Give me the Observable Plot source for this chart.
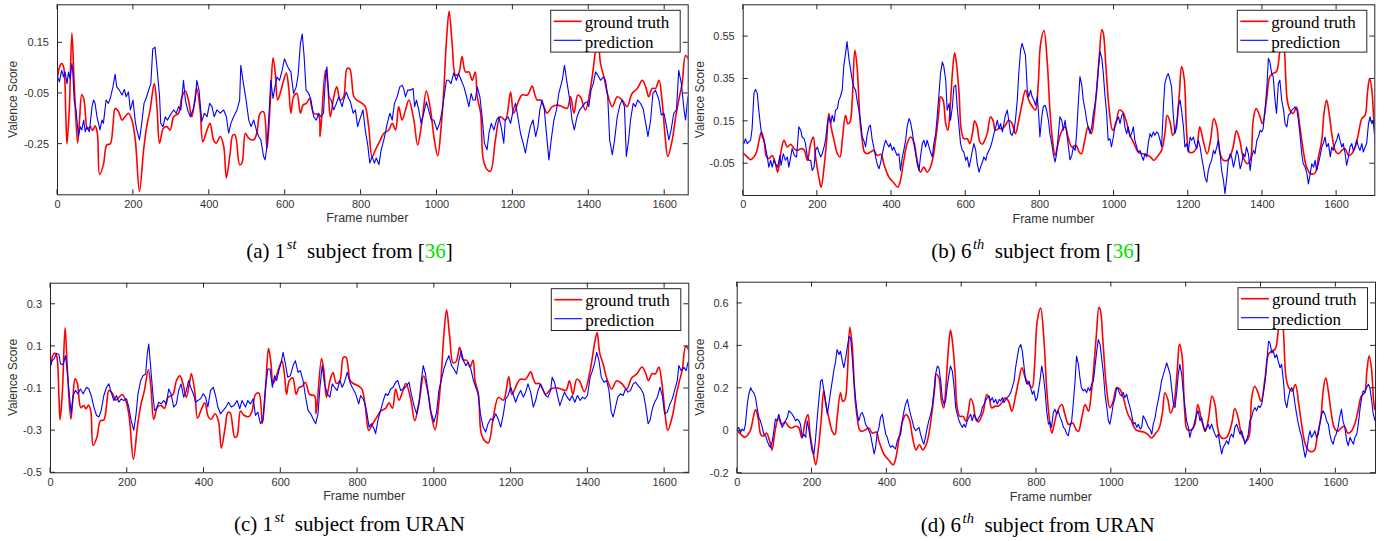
<!DOCTYPE html>
<html><head><meta charset="utf-8">
<script src="https://cdn.jsdelivr.net/npm/d3@7"></script>
<script src="https://cdn.jsdelivr.net/npm/@observablehq/plot@0.6"></script>
<style>
html,body{margin:0;padding:0;background:#fff}
#page{position:relative;width:1396px;height:541px;overflow:hidden;background:#fff}
</style></head><body>
<div id="page"></div>
<script>
// ---------- DATA ----------
const xTicks = [0,200,400,600,800,1000,1200,1400,1600];
const yTicksA = [-0.25,-0.05,0.15];
const yTicksB = [-0.05,0.15,0.35,0.55];
const yTicksC = [-0.5,-0.3,-0.1,0.1,0.3];
const yTicksD = [-0.2,0,0.2,0.4,0.6];
const seriesNames = ["ground truth","prediction"];
const xLabel = "Frame number";
const yLabel = "Valence Score";

// ground truth, 1st subject [frame, valence] (same in panels a and c)
const truthSubject1 = [[0,0.015],[7,0.061],[11,0.068],[16,0.055],[22,-0.142],[25,-0.249],[31,-0.115],[38,0.188],[44,-0.011],[53,-0.246],[58,-0.155],[64,-0.054],[70,-0.076],[79,-0.191],[86,-0.181],[93,-0.196],[99,-0.178],[105,-0.207],[111,-0.37],[121,-0.331],[130,-0.253],[139,-0.249],[146,-0.181],[152,-0.109],[161,-0.122],[170,-0.155],[178,-0.142],[187,-0.128],[196,-0.155],[205,-0.233],[216,-0.436],[227,-0.272],[235,-0.181],[244,-0.115],[255,-0.011],[262,-0.102],[269,-0.246],[279,-0.187],[288,-0.181],[297,-0.194],[306,-0.142],[319,-0.128],[328,-0.063],[337,-0.04],[345,-0.076],[354,-0.142],[363,-0.063],[367,-0.03],[376,-0.115],[383,-0.24],[394,-0.194],[402,-0.168],[411,-0.233],[418,-0.246],[429,-0.22],[438,-0.259],[445,-0.383],[455,-0.285],[462,-0.214],[468,-0.214],[480,-0.331],[486,-0.325],[495,-0.207],[504,-0.227],[517,-0.233],[525,-0.207],[534,-0.128],[543,-0.122],[552,-0.266],[561,-0.076],[568,0.091],[574,0.028],[580,-0.076],[589,-0.037],[596,0.002],[603,0.031],[609,-0.024],[615,-0.128],[622,-0.063],[631,-0.05],[640,-0.128],[647,-0.096],[656,-0.089],[664,-0.07],[675,-0.128],[688,-0.135],[692,-0.22],[706,0.042],[712,-0.011],[719,-0.142],[728,-0.063],[736,-0.024],[745,-0.076],[754,-0.063],[763,0.048],[770,0.048],[781,-0.063],[789,-0.076],[803,-0.089],[811,-0.102],[820,-0.181],[829,-0.299],[838,-0.272],[851,-0.233],[860,-0.207],[873,-0.194],[882,-0.168],[891,-0.194],[899,-0.102],[908,-0.155],[917,-0.115],[926,-0.076],[939,-0.155],[949,-0.253],[961,-0.155],[972,-0.04],[983,-0.115],[993,-0.233],[1002,-0.296],[1011,-0.181],[1018,-0.037],[1025,0.159],[1032,0.274],[1040,0.146],[1049,0.022],[1057,0.028],[1066,0.096],[1075,0.035],[1084,0.035],[1093,0.002],[1101,0.035],[1106,-0.063],[1115,-0.128],[1122,-0.311],[1132,-0.35],[1141,-0.357],[1154,-0.233],[1167,-0.142],[1180,-0.155],[1194,-0.044],[1202,-0.128],[1216,-0.076],[1224,-0.056],[1238,-0.056],[1251,-0.021],[1257,-0.05],[1264,-0.076],[1273,-0.076],[1282,-0.102],[1290,-0.128],[1304,-0.102],[1317,-0.096],[1330,-0.102],[1343,-0.109],[1352,-0.063],[1361,-0.128],[1371,-0.056],[1378,-0.063],[1391,-0.115],[1405,-0.024],[1418,0.12],[1424,0.166],[1431,0.068],[1440,0.015],[1449,-0.05],[1462,-0.102],[1475,-0.063],[1488,-0.076],[1501,-0.102],[1514,-0.05],[1528,-0.03],[1541,0.002],[1550,-0.024],[1558,-0.063],[1567,-0.03],[1576,-0.03],[1585,0.002],[1593,-0.076],[1602,-0.233],[1608,-0.299],[1620,-0.233],[1629,-0.142],[1637,-0.076],[1646,-0.011],[1655,0.1],[1662,0.087]];

// prediction, 1st subject, method of [36] (panel a)
const predA = [[0,0.015],[5,-0.004],[11,0.041],[16,0.015],[20,0.035],[25,-0.011],[29,0.035],[33,0.009],[38,0.068],[40,0.041],[44,-0.076],[49,-0.115],[55,-0.22],[60,-0.181],[64,-0.194],[69,-0.155],[73,-0.201],[77,-0.181],[84,-0.201],[91,-0.102],[95,-0.076],[99,-0.089],[104,-0.142],[108,-0.168],[112,-0.194],[117,-0.155],[121,-0.168],[128,-0.076],[134,-0.089],[139,-0.07],[146,-0.024],[152,0.026],[156,-0.024],[163,-0.037],[170,-0.056],[176,-0.034],[181,-0.063],[187,-0.044],[192,-0.115],[199,-0.076],[205,-0.161],[209,-0.194],[216,-0.233],[222,-0.168],[228,-0.089],[235,-0.063],[240,-0.037],[246,-0.011],[251,0.126],[257,0.133],[262,0.055],[269,-0.063],[272,-0.168],[278,-0.181],[284,-0.142],[290,-0.155],[297,-0.135],[306,-0.115],[313,-0.128],[319,-0.102],[325,-0.115],[332,0.002],[337,-0.076],[343,-0.115],[350,-0.142],[357,-0.115],[363,-0.076],[367,0.002],[373,-0.037],[376,-0.089],[380,-0.161],[387,-0.128],[394,-0.142],[401,-0.089],[407,-0.102],[413,-0.142],[420,-0.115],[429,-0.128],[438,-0.115],[445,-0.142],[451,-0.207],[457,-0.168],[464,-0.142],[473,-0.115],[480,-0.076],[483,0.061],[490,-0.011],[497,-0.076],[504,-0.155],[510,-0.181],[517,-0.155],[524,-0.194],[530,-0.22],[536,-0.233],[543,-0.299],[547,-0.312],[552,-0.259],[558,-0.115],[562,0.002],[568,-0.07],[573,-0.024],[578,0.015],[585,0.002],[592,0.041],[598,0.087],[603,0.068],[609,0.048],[615,0.035],[622,-0.05],[629,-0.024],[634,0.022],[640,0.146],[645,0.185],[650,0.094],[655,-0.037],[662,-0.05],[668,-0.076],[675,-0.142],[682,-0.155],[688,-0.128],[694,-0.142],[701,-0.128],[706,0.015],[710,0.055],[715,-0.063],[721,-0.076],[728,-0.115],[735,-0.089],[741,-0.063],[750,-0.102],[754,-0.076],[761,-0.044],[767,-0.07],[772,-0.083],[779,-0.128],[785,-0.115],[791,-0.181],[796,-0.155],[805,-0.115],[811,-0.194],[818,-0.259],[823,-0.325],[829,-0.299],[835,-0.325],[840,-0.305],[847,-0.331],[853,-0.272],[860,-0.233],[869,-0.168],[876,-0.128],[882,-0.155],[888,-0.089],[895,-0.063],[902,-0.024],[908,-0.017],[912,-0.03],[917,-0.063],[923,-0.037],[930,-0.037],[937,-0.03],[941,-0.102],[946,-0.076],[952,-0.115],[958,-0.168],[965,-0.128],[972,-0.083],[978,-0.115],[985,-0.155],[992,-0.155],[1000,-0.194],[1007,-0.168],[1014,-0.115],[1020,-0.05],[1025,0.002],[1031,0.002],[1037,-0.011],[1044,0.031],[1051,0.002],[1057,0.028],[1064,0.002],[1071,-0.024],[1078,-0.063],[1084,-0.102],[1090,-0.05],[1095,-0.076],[1101,-0.076],[1106,-0.024],[1113,-0.063],[1119,-0.142],[1125,-0.246],[1132,-0.272],[1137,-0.207],[1143,-0.168],[1150,-0.194],[1157,-0.155],[1163,-0.142],[1169,-0.181],[1176,-0.246],[1180,-0.155],[1187,-0.142],[1194,-0.168],[1201,-0.115],[1207,-0.089],[1213,-0.142],[1220,-0.207],[1227,-0.246],[1233,-0.285],[1239,-0.233],[1246,-0.181],[1253,-0.155],[1260,-0.22],[1266,-0.181],[1271,-0.115],[1277,-0.076],[1283,-0.115],[1290,-0.233],[1295,-0.312],[1301,-0.233],[1308,-0.155],[1315,-0.115],[1321,-0.05],[1330,0.002],[1336,0.061],[1343,-0.011],[1350,-0.076],[1356,-0.155],[1362,-0.194],[1369,-0.142],[1376,-0.115],[1383,-0.102],[1389,-0.089],[1396,-0.083],[1400,-0.102],[1406,-0.037],[1412,-0.011],[1418,0.035],[1424,0.022],[1431,0.002],[1438,0.015],[1444,0.002],[1450,-0.063],[1455,-0.233],[1462,-0.292],[1468,-0.233],[1475,-0.142],[1482,-0.096],[1488,-0.076],[1494,-0.102],[1499,-0.299],[1505,-0.233],[1510,-0.155],[1517,-0.089],[1523,-0.102],[1529,-0.076],[1536,-0.089],[1543,-0.109],[1550,-0.168],[1556,-0.22],[1563,-0.155],[1569,-0.05],[1576,-0.037],[1585,-0.076],[1591,-0.135],[1598,-0.128],[1605,-0.181],[1611,-0.233],[1617,-0.194],[1624,-0.128],[1631,-0.115],[1637,0.041],[1644,-0.011],[1651,-0.115],[1655,-0.155],[1661,-0.063]];

// prediction, 1st subject, URAN (panel c)
const predC = [[0,0.004],[4,0.032],[9,0.04],[16,0.067],[22,0.061],[26,0.017],[33,0.013],[39,0.056],[43,-0.007],[48,-0.109],[54,-0.22],[59,-0.133],[65,-0.109],[71,-0.125],[78,-0.102],[85,-0.125],[94,-0.094],[100,-0.102],[106,-0.133],[113,-0.188],[120,-0.228],[126,-0.235],[132,-0.204],[139,-0.133],[146,-0.094],[152,-0.078],[158,-0.117],[165,-0.157],[172,-0.133],[178,-0.165],[184,-0.149],[191,-0.157],[198,-0.149],[204,-0.188],[210,-0.251],[217,-0.298],[223,-0.22],[228,-0.125],[235,-0.062],[241,-0.039],[248,-0.031],[252,0.064],[256,0.111],[261,0.001],[266,-0.109],[271,-0.204],[276,-0.196],[282,-0.165],[288,-0.173],[295,-0.157],[302,-0.173],[308,-0.102],[314,-0.125],[321,-0.188],[328,-0.173],[334,-0.109],[340,-0.078],[347,-0.141],[354,-0.109],[360,-0.062],[365,-0.094],[372,-0.125],[378,-0.165],[384,-0.157],[391,-0.149],[398,-0.125],[404,-0.141],[410,-0.188],[417,-0.109],[424,-0.094],[430,-0.133],[436,-0.188],[443,-0.22],[450,-0.204],[457,-0.188],[464,-0.165],[471,-0.188],[478,-0.181],[486,-0.157],[493,-0.196],[499,-0.157],[508,-0.188],[514,-0.157],[521,-0.173],[528,-0.149],[534,-0.228],[540,-0.212],[547,-0.267],[553,-0.251],[560,-0.102],[566,-0.007],[572,-0.007],[578,-0.094],[584,-0.039],[589,-0.062],[595,-0.015],[601,0.024],[606,0.072],[612,0.017],[618,-0.046],[625,-0.039],[632,0.009],[638,0.032],[645,-0.023],[651,-0.015],[658,-0.062],[664,-0.133],[671,-0.204],[678,-0.22],[684,-0.243],[691,-0.267],[697,-0.22],[702,-0.094],[708,0.009],[714,-0.078],[721,-0.125],[728,-0.141],[734,-0.078],[740,-0.094],[747,-0.109],[754,-0.062],[760,-0.094],[766,-0.07],[773,-0.023],[780,-0.07],[786,-0.094],[795,-0.125],[803,-0.173],[808,-0.133],[817,-0.157],[824,-0.212],[830,-0.283],[836,-0.267],[843,-0.291],[847,-0.314],[853,-0.251],[860,-0.204],[867,-0.157],[873,-0.125],[879,-0.133],[886,-0.102],[893,-0.094],[899,-0.07],[905,-0.062],[912,-0.109],[919,-0.102],[925,-0.094],[934,-0.07],[940,-0.125],[947,-0.181],[954,-0.22],[960,-0.173],[966,-0.062],[971,0.009],[977,-0.031],[983,-0.109],[990,-0.204],[999,-0.259],[1006,-0.212],[1012,-0.109],[1018,-0.062],[1025,-0.007],[1032,0.032],[1038,0.056],[1045,0.009],[1051,-0.007],[1058,-0.031],[1064,0.032],[1070,0.079],[1076,0.032],[1082,0.009],[1088,0.024],[1095,-0.007],[1102,-0.062],[1108,-0.094],[1114,-0.125],[1120,-0.22],[1127,-0.283],[1134,-0.306],[1140,-0.267],[1147,-0.243],[1153,-0.251],[1160,-0.22],[1166,-0.243],[1173,-0.283],[1180,-0.22],[1186,-0.149],[1192,-0.133],[1199,-0.094],[1206,-0.133],[1212,-0.165],[1218,-0.133],[1225,-0.109],[1232,-0.141],[1238,-0.117],[1244,-0.078],[1251,-0.117],[1258,-0.188],[1264,-0.157],[1270,-0.109],[1277,-0.078],[1284,-0.109],[1290,-0.133],[1296,-0.141],[1303,-0.109],[1307,-0.046],[1313,-0.07],[1320,-0.125],[1327,-0.181],[1333,-0.149],[1339,-0.117],[1346,-0.141],[1353,-0.157],[1359,-0.133],[1366,-0.165],[1373,-0.133],[1380,-0.157],[1386,-0.141],[1392,-0.149],[1399,-0.133],[1406,-0.046],[1412,-0.015],[1418,0.024],[1423,0.072],[1429,0.032],[1435,-0.046],[1442,-0.07],[1449,-0.062],[1455,-0.109],[1461,-0.212],[1466,-0.235],[1472,-0.188],[1478,-0.141],[1485,-0.125],[1492,-0.133],[1498,-0.102],[1505,-0.117],[1511,-0.109],[1518,-0.078],[1524,-0.07],[1531,-0.086],[1538,-0.102],[1545,-0.125],[1551,-0.188],[1557,-0.267],[1562,-0.251],[1568,-0.196],[1574,-0.165],[1581,-0.141],[1588,-0.094],[1594,-0.133],[1600,-0.22],[1607,-0.212],[1614,-0.173],[1620,-0.149],[1626,-0.109],[1633,-0.062],[1637,0.009],[1643,-0.015],[1650,0.001],[1656,-0.015],[1661,0.024]];

// ground truth, 6th subject (same in panels b and d)
const truthSubject6 = [[2,-0.003],[11,-0.018],[20,-0.031],[29,-0.018],[36,0.005],[42,0.053],[49,0.1],[56,0.06],[63,-0.018],[69,-0.026],[78,-0.011],[87,-0.05],[93,-0.09],[101,-0.003],[110,0.06],[119,0.029],[128,0.042],[137,0.021],[146,0.013],[155,0.021],[164,0.016],[173,-0.034],[182,0.045],[189,0.076],[195,-0.018],[204,-0.113],[210,-0.161],[218,-0.066],[225,0.06],[231,0.187],[237,0.124],[245,0.06],[254,-0.003],[261,-0.018],[267,0.06],[276,0.179],[282,0.139],[288,0.147],[294,0.25],[301,0.487],[307,0.408],[315,0.155],[321,0.06],[327,0.005],[334,-0.003],[343,0.005],[352,0.013],[361,-0.011],[372,-0.006],[379,-0.05],[393,-0.113],[406,-0.14],[417,-0.161],[423,-0.136],[433,-0.034],[442,0.045],[451,0.076],[460,0.053],[469,-0.034],[478,-0.09],[487,-0.066],[496,-0.09],[505,-0.066],[512,-0.018],[521,0.092],[528,0.203],[532,0.266],[539,0.25],[546,0.14],[552,0.108],[557,0.187],[564,0.376],[570,0.474],[575,0.424],[582,0.282],[588,0.108],[595,0.068],[604,0.068],[611,0.045],[618,0.092],[624,0.152],[631,0.124],[638,0.053],[645,0.042],[651,0.06],[658,0.092],[667,0.171],[674,0.152],[680,0.108],[690,0.116],[698,0.116],[707,0.132],[716,0.155],[725,0.14],[734,0.092],[743,0.155],[752,0.234],[761,0.297],[770,0.25],[779,0.221],[788,0.203],[795,0.313],[802,0.518],[811,0.578],[820,0.424],[827,0.203],[834,0.061],[841,-0.011],[847,0.029],[856,0.092],[868,0.124],[876,0.076],[886,0.029],[897,0.037],[906,0.005],[912,-0.003],[921,0.061],[930,0.124],[939,0.092],[946,0.171],[953,0.297],[960,0.455],[967,0.582],[971,0.566],[978,0.408],[987,0.203],[996,0.108],[1005,0.139],[1014,0.203],[1023,0.195],[1032,0.155],[1043,0.084],[1054,0.045],[1065,0.005],[1077,-0.003],[1087,-0.006],[1098,-0.018],[1107,-0.034],[1119,-0.011],[1128,0.013],[1137,0.092],[1143,0.179],[1151,0.147],[1158,0.084],[1167,0.124],[1176,0.282],[1182,0.408],[1189,0.353],[1196,0.092],[1203,0.005],[1214,0.005],[1223,0.029],[1231,0.124],[1240,0.061],[1251,-0.003],[1260,0.061],[1269,0.163],[1277,0.124],[1286,-0.003],[1295,-0.034],[1308,-0.031],[1321,0.029],[1330,0.105],[1339,0.061],[1348,-0.018],[1359,-0.05],[1368,-0.026],[1375,0.155],[1383,0.21],[1392,0.179],[1400,0.139],[1411,0.25],[1420,0.361],[1429,0.376],[1438,0.385],[1446,0.47],[1454,0.6],[1460,0.47],[1467,0.25],[1474,0.203],[1483,0.187],[1492,0.218],[1501,0.124],[1510,0.013],[1519,-0.066],[1530,-0.097],[1542,-0.094],[1551,-0.018],[1560,0.061],[1566,0.187],[1573,0.25],[1580,0.187],[1587,0.092],[1596,0.013],[1605,-0.003],[1614,0.013],[1623,0.021],[1632,-0.011],[1641,-0.003],[1650,0.029],[1659,0.092],[1668,0.163],[1677,0.179],[1683,0.282],[1689,0.353],[1695,0.297],[1701,0.14],[1704,0.1]];

// prediction, 6th subject, method of [36] (panel b)
const predB = [[2,0.045],[6,0.068],[11,0.045],[15,0.053],[20,0.061],[24,0.116],[29,0.282],[33,0.301],[38,0.282],[42,0.203],[47,0.124],[51,0.076],[56,0.061],[60,0.029],[65,-0.018],[69,-0.066],[74,-0.034],[78,-0.066],[83,-0.031],[87,-0.05],[93,-0.066],[99,-0.011],[102,-0.058],[108,-0.003],[114,-0.034],[119,-0.018],[123,-0.066],[128,-0.018],[132,0.021],[138,-0.011],[144,-0.018],[150,0.124],[155,0.108],[159,0.076],[164,0.068],[168,0.045],[173,-0.018],[177,-0.034],[182,-0.034],[186,-0.082],[191,-0.066],[195,0.013],[200,0.029],[204,0.005],[209,-0.018],[213,-0.003],[218,0.029],[222,0.061],[227,0.139],[231,0.171],[236,0.139],[240,0.179],[245,0.147],[249,0.203],[254,0.21],[258,0.25],[262,0.266],[267,0.297],[271,0.408],[276,0.471],[280,0.526],[285,0.447],[289,0.4],[294,0.345],[298,0.313],[303,0.297],[307,0.25],[312,0.203],[316,0.155],[321,0.076],[325,0.061],[330,0.029],[334,0.084],[339,0.124],[343,0.132],[348,0.061],[352,0.029],[357,-0.018],[361,-0.05],[366,-0.074],[370,-0.05],[375,-0.003],[379,0.029],[384,0.061],[388,0.045],[393,0.029],[397,0.045],[402,0.013],[406,0.029],[411,0.005],[415,-0.011],[420,-0.003],[424,-0.082],[429,-0.018],[433,0.013],[438,0.061],[442,0.124],[447,0.163],[451,0.147],[456,0.1],[460,0.045],[465,-0.003],[469,-0.05],[474,-0.082],[478,-0.018],[483,0.045],[487,0.061],[492,0.029],[496,0.061],[501,0.029],[505,0.005],[510,-0.018],[514,0.045],[519,0.092],[523,0.171],[528,0.282],[532,0.376],[537,0.431],[541,0.408],[546,0.345],[550,0.203],[555,0.234],[559,0.155],[564,0.218],[568,0.313],[573,0.321],[577,0.218],[582,0.124],[586,0.045],[591,0.013],[595,0.005],[600,-0.034],[604,-0.018],[609,-0.066],[613,-0.034],[618,0.013],[622,0.045],[627,0.013],[631,-0.05],[636,-0.09],[640,-0.066],[645,-0.042],[649,-0.018],[654,-0.034],[658,-0.003],[663,0.013],[667,0.029],[672,0.061],[676,0.092],[681,0.124],[685,0.155],[690,0.116],[694,0.139],[699,0.1],[703,0.139],[707,0.179],[712,0.203],[716,0.155],[721,0.092],[725,0.084],[730,0.108],[734,0.155],[739,0.25],[743,0.376],[748,0.487],[752,0.518],[757,0.487],[761,0.463],[766,0.297],[770,0.266],[775,0.297],[779,0.266],[784,0.25],[788,0.226],[793,0.266],[797,0.171],[800,0.076],[805,0.171],[809,0.218],[814,0.226],[818,0.203],[823,0.155],[827,0.092],[832,0.045],[836,-0.003],[841,-0.042],[845,-0.003],[850,0.092],[854,0.171],[859,0.155],[863,0.108],[868,0.155],[872,0.1],[877,0.029],[881,-0.031],[886,-0.011],[890,0.029],[895,0.013],[899,0.092],[904,0.25],[908,0.361],[913,0.321],[917,0.25],[922,0.203],[926,0.155],[931,0.116],[935,0.092],[940,0.124],[944,0.187],[949,0.234],[953,0.297],[958,0.408],[962,0.479],[967,0.447],[971,0.376],[975,0.282],[980,0.187],[984,0.061],[989,0.068],[993,0.029],[998,0.076],[1003,0.139],[1007,0.155],[1012,0.171],[1016,0.139],[1021,0.179],[1025,0.187],[1029,0.124],[1034,0.092],[1038,0.124],[1043,0.076],[1047,0.092],[1052,0.124],[1056,0.061],[1061,0.029],[1065,0.005],[1070,0.013],[1074,-0.011],[1079,-0.034],[1083,-0.003],[1088,-0.018],[1092,0.045],[1097,0.092],[1101,0.076],[1106,0.1],[1110,0.084],[1115,0.1],[1119,0.092],[1124,0.061],[1128,0.029],[1133,0.218],[1137,0.329],[1142,0.361],[1146,0.376],[1151,0.345],[1155,0.313],[1160,0.171],[1164,0.092],[1169,0.124],[1173,0.218],[1178,0.25],[1182,0.203],[1187,0.124],[1191,0.029],[1196,0.045],[1200,0.005],[1205,0.076],[1209,0.061],[1214,0.076],[1218,0.045],[1223,0.021],[1227,0.061],[1232,0.029],[1236,-0.018],[1241,-0.066],[1245,-0.113],[1250,-0.137],[1254,-0.082],[1259,-0.05],[1263,-0.034],[1268,0.013],[1272,-0.003],[1277,0.029],[1281,0.061],[1286,-0.003],[1290,-0.082],[1295,-0.129],[1299,-0.192],[1304,-0.113],[1308,-0.034],[1313,-0.003],[1317,-0.018],[1322,-0.066],[1326,-0.034],[1331,0.013],[1335,-0.011],[1340,-0.074],[1344,-0.05],[1349,-0.003],[1353,-0.018],[1357,0.029],[1362,-0.003],[1367,-0.082],[1371,-0.018],[1376,0.013],[1380,-0.003],[1385,0.061],[1389,0.076],[1394,0.108],[1398,0.1],[1402,0.116],[1407,0.203],[1412,0.313],[1416,0.447],[1420,0.431],[1425,0.376],[1429,0.361],[1434,0.25],[1438,0.187],[1443,0.329],[1447,0.345],[1452,0.25],[1457,0.203],[1461,0.139],[1466,0.124],[1470,0.179],[1475,0.187],[1479,0.203],[1484,0.21],[1488,0.218],[1493,0.203],[1497,0.155],[1501,0.092],[1506,-0.003],[1510,-0.05],[1515,-0.066],[1520,-0.097],[1524,-0.145],[1529,-0.097],[1533,-0.05],[1538,-0.066],[1542,-0.034],[1546,-0.082],[1551,-0.05],[1555,-0.018],[1560,0.029],[1564,0.045],[1569,0.076],[1573,0.029],[1578,0.045],[1583,-0.018],[1587,0.029],[1591,0.013],[1596,0.045],[1600,0.061],[1605,0.092],[1609,0.061],[1614,0.029],[1618,0.045],[1623,-0.003],[1627,-0.058],[1632,-0.018],[1636,0.029],[1641,0.045],[1645,0.013],[1650,0.029],[1654,0.061],[1659,0.029],[1663,0.013],[1668,0.045],[1672,0.005],[1677,0.029],[1681,0.045],[1686,0.139],[1690,0.171],[1695,0.139],[1699,0.155],[1704,0.045]];

// prediction, 6th subject, URAN (panel d)
const predD = [[0,0.008],[4,0.016],[9,-0.008],[13,0.008],[18,0],[22,0.031],[27,0.125],[31,0.172],[36,0.203],[40,0.188],[44,0.18],[49,0.156],[53,0.109],[58,0.063],[62,0.047],[67,0.016],[71,-0.016],[76,-0.023],[80,-0.047],[85,-0.07],[89,-0.078],[94,-0.047],[98,0],[102,0.055],[107,0.047],[111,0.078],[116,0.047],[120,0.016],[125,0.031],[129,0.047],[134,0.063],[138,0.094],[143,0.086],[147,0.078],[152,0.063],[156,0.047],[160,0.055],[165,0.047],[169,0.031],[174,-0.031],[178,-0.016],[183,-0.031],[187,0.047],[192,0],[196,-0.047],[200,-0.094],[205,-0.109],[209,-0.047],[214,0.063],[218,0.141],[223,0.234],[227,0.242],[232,0.188],[236,0.141],[241,0.078],[245,0.125],[250,0.188],[254,0.234],[258,0.281],[263,0.328],[267,0.383],[272,0.359],[276,0.375],[281,0.328],[285,0.297],[290,0.344],[294,0.391],[299,0.445],[303,0.438],[307,0.359],[312,0.234],[316,0.156],[321,0.078],[325,0.047],[330,0.078],[334,0.086],[339,0.063],[343,0.031],[348,0.016],[352,0],[356,-0.016],[361,-0.063],[366,-0.109],[370,-0.078],[374,-0.016],[379,0.016],[383,0.063],[388,0.078],[392,0.031],[397,-0.016],[401,-0.031],[406,-0.063],[410,-0.078],[415,-0.07],[419,-0.078],[423,-0.086],[428,-0.047],[432,-0.031],[437,-0.016],[441,0.047],[446,0.094],[450,0.125],[455,0.148],[459,0.109],[463,0.078],[468,0.047],[472,0.016],[477,0],[481,0.008],[486,0.016],[490,-0.016],[495,-0.047],[499,-0.063],[503,-0.031],[508,0.016],[512,0.047],[517,0.078],[521,0.109],[526,0.188],[530,0.266],[535,0.305],[539,0.297],[544,0.234],[548,0.156],[553,0.125],[557,0.141],[561,0.203],[566,0.266],[570,0.305],[575,0.281],[579,0.219],[584,0.109],[588,0.078],[593,0.047],[597,0.031],[602,0.016],[606,0.031],[610,0.016],[615,0.047],[619,0.063],[624,0.078],[628,0.047],[633,0.078],[637,0.063],[642,0.047],[646,0.063],[651,0.078],[655,0.109],[660,0.125],[664,0.141],[668,0.156],[673,0.164],[677,0.141],[682,0.156],[686,0.133],[691,0.148],[695,0.125],[700,0.148],[704,0.141],[709,0.156],[713,0.133],[718,0.148],[722,0.156],[726,0.164],[731,0.18],[735,0.203],[740,0.234],[744,0.297],[749,0.352],[753,0.391],[758,0.406],[762,0.375],[766,0.313],[771,0.234],[775,0.219],[780,0.234],[784,0.203],[789,0.172],[793,0.188],[798,0.141],[802,0.156],[809,0.234],[814,0.305],[818,0.266],[823,0.188],[827,0.094],[832,0.031],[836,0.039],[840,0.016],[845,0.086],[849,0.102],[854,0.078],[858,0.094],[863,0.063],[867,0.047],[872,0.016],[876,0.008],[881,-0.016],[885,-0.023],[889,0.016],[894,0.047],[898,0.125],[903,0.234],[907,0.352],[912,0.313],[916,0.25],[920,0.203],[925,0.188],[929,0.195],[934,0.18],[938,0.203],[943,0.188],[947,0.219],[952,0.234],[956,0.297],[961,0.375],[965,0.43],[970,0.406],[974,0.344],[979,0.266],[983,0.172],[988,0.109],[992,0.047],[996,0.031],[1001,0.078],[1005,0.125],[1010,0.156],[1014,0.203],[1018,0.195],[1023,0.172],[1027,0.164],[1032,0.18],[1036,0.156],[1041,0.172],[1045,0.141],[1050,0.109],[1054,0.078],[1059,0.031],[1063,0.039],[1068,0.016],[1072,0.031],[1077,0.008],[1081,0.016],[1085,0.07],[1090,0.055],[1094,0.039],[1099,0.016],[1103,0.008],[1108,-0.016],[1112,0.031],[1117,0.063],[1121,0.109],[1125,0.141],[1130,0.188],[1134,0.234],[1139,0.266],[1143,0.289],[1148,0.32],[1152,0.297],[1157,0.266],[1161,0.203],[1166,0.125],[1170,0.109],[1175,0.188],[1179,0.266],[1183,0.313],[1188,0.266],[1192,0.188],[1197,0.109],[1201,0.047],[1206,0.016],[1210,-0.031],[1214,0],[1219,0.016],[1223,0.047],[1228,0.078],[1232,0.094],[1237,0.047],[1241,0.063],[1245,0.031],[1250,0],[1255,0.016],[1259,0.031],[1263,0.008],[1268,0.031],[1272,0.008],[1277,-0.016],[1281,-0.031],[1286,-0.016],[1290,-0.063],[1295,-0.109],[1299,-0.078],[1304,-0.063],[1308,-0.047],[1313,-0.063],[1317,-0.031],[1321,-0.016],[1326,-0.031],[1330,0.016],[1335,0.031],[1339,0.008],[1344,-0.016],[1348,0],[1353,-0.031],[1357,-0.063],[1361,-0.047],[1366,-0.016],[1370,0.047],[1375,0.063],[1379,0.094],[1384,0.109],[1388,0.094],[1393,0.117],[1397,0.109],[1402,0.125],[1406,0.172],[1411,0.234],[1415,0.313],[1420,0.422],[1424,0.414],[1429,0.367],[1433,0.375],[1437,0.344],[1442,0.359],[1446,0.328],[1451,0.297],[1455,0.313],[1460,0.234],[1464,0.141],[1469,0.109],[1473,0.156],[1477,0.188],[1482,0.203],[1486,0.188],[1491,0.125],[1495,0.078],[1500,0.031],[1504,0],[1509,-0.031],[1513,-0.078],[1518,-0.125],[1522,-0.094],[1527,-0.031],[1531,0],[1535,-0.031],[1540,-0.016],[1544,0],[1548,-0.031],[1553,-0.016],[1557,0.031],[1562,0.078],[1566,0.094],[1571,0.078],[1575,0.047],[1580,0.031],[1584,-0.016],[1588,-0.047],[1593,-0.063],[1597,-0.031],[1601,-0.016],[1606,0.016],[1610,0.063],[1615,0.102],[1619,0.047],[1624,0.016],[1629,-0.047],[1633,-0.07],[1638,-0.031],[1642,-0.047],[1647,-0.063],[1651,-0.031],[1656,-0.016],[1660,0.031],[1665,0.109],[1669,0.156],[1673,0.188],[1678,0.18],[1682,0.203],[1687,0.219],[1691,0.203],[1696,0.141],[1700,0.078],[1705,0.047]];

const captionTags = ["(a)","(b)","(c)","(d)"];
const captionOrdinals = [["1","st"],["6","th"],["1","st"],["6","th"]];
const captionSources = ["[36]","[36]","URAN","URAN"];

// ---------- LAYOUT ----------
const panels = [
  {truth: truthSubject1, pred: predA, xDomain:[0,1662], yDomain:[-0.45,0.3], yTicks:yTicksA, left:0,   top:0,   w:700, h:230, m:[4.3,12.3,35.7,57],   yLabX:17},
  {truth: truthSubject6, pred: predB, xDomain:[0,1703], yDomain:[-0.2,0.7],  yTicks:yTicksB, left:690, top:0,   w:700, h:230, m:[4.3,15.7,35,52.7],   yLabX:14},
  {truth: truthSubject1, pred: predC, xDomain:[0,1663], yDomain:[-0.5,0.4],  yTicks:yTicksC, left:0,   top:278, w:700, h:232, m:[4.7,11.7,37.7,50],   yLabX:17},
  {truth: truthSubject6, pred: predD, xDomain:[0,1706], yDomain:[-0.2,0.7],  yTicks:yTicksD, left:690, top:278, w:700, h:232, m:[3.7,15,37.3,46.7],   yLabX:14}
];
const captionPos = [[349.5,258],[1036,258],[349.5,531],[1037.8,531.5]];
const AX = "#262626";
const SANS = "'Liberation Sans', Arial, Helvetica, sans-serif";
const SERIF = "'Liberation Serif', 'Times New Roman', Times, serif";
const page = document.getElementById("page");

panels.forEach((p) => {
  const [mt, mr, mb, ml] = p.m;
  const chart = Plot.plot({
    width: p.w, height: p.h,
    marginTop: mt, marginRight: mr, marginBottom: mb, marginLeft: ml,
    style: {background: "none", fontFamily: SANS, fontSize: "11px", color: "#333", overflow: "visible"},
    x: {domain: p.xDomain},
    y: {domain: p.yDomain},
    marks: [
      Plot.axisX({ticks: xTicks, anchor: "bottom", tickSize: 0, tickPadding: 5, tickFormat: d => String(d), label: null}),
      Plot.axisY({ticks: p.yTicks, anchor: "left", tickSize: 0, tickPadding: 8.5, tickFormat: d => String(d), label: null}),
      Plot.line(p.truth, {x: d => d[0], y: d => d[1], stroke: "#ff0000", strokeWidth: 1.6, curve: "catmull-rom", clip: true}),
      Plot.line(p.pred, {x: d => d[0], y: d => d[1], stroke: "#0000ff", strokeWidth: 1.1, clip: true}),
      Plot.frame({stroke: AX, strokeWidth: 1})
    ]
  });
  chart.style.position = "absolute";
  chart.style.left = p.left + "px";
  chart.style.top = p.top + "px";
  page.appendChild(chart);

  const sx = chart.scale("x"), sy = chart.scale("y");
  const x0 = ml, x1 = p.w - mr, y0 = mt, y1 = p.h - mb;
  const svg = d3.select(chart);
  const g = svg.append("g").attr("stroke", AX).attr("stroke-width", 1);
  xTicks.forEach(t => {
    const px = sx.apply(t);
    g.append("line").attr("x1", px).attr("x2", px).attr("y1", y1).attr("y2", y1 - 5);
    g.append("line").attr("x1", px).attr("x2", px).attr("y1", y0).attr("y2", y0 + 5);
  });
  p.yTicks.forEach(t => {
    const py = sy.apply(t);
    g.append("line").attr("y1", py).attr("y2", py).attr("x1", x0).attr("x2", x0 + 5);
    g.append("line").attr("y1", py).attr("y2", py).attr("x1", x1).attr("x2", x1 - 5);
  });
  svg.append("text").attr("x", (x0 + x1) / 2 - 5).attr("y", y1 + 28).attr("text-anchor", "middle")
    .attr("font-family", SANS).attr("font-size", 12.5).attr("fill", "#333").text(xLabel);
  svg.append("text").attr("transform", `translate(${p.yLabX},${(y0 + y1) / 2}) rotate(-90)`).attr("text-anchor", "middle")
    .attr("font-family", SANS).attr("font-size", 12).attr("fill", "#333").text(yLabel);

  // legend
  const lw = 129.5, lh = 41.8;
  const lx = x1 - 7.5 - lw, ly = y0 + 6;
  const lg = svg.append("g").attr("text-anchor", "start");
  lg.append("rect").attr("x", lx).attr("y", ly).attr("width", lw).attr("height", lh)
    .attr("fill", "#fff").attr("stroke", AX).attr("stroke-width", 1);
  [["#ff0000", 1.6, 11, 17.6], ["#0000ff", 1.1, 30, 37.6]].forEach(([c, sw, ly1, tb], i) => {
    lg.append("line").attr("x1", lx + 3).attr("x2", lx + 31).attr("y1", ly + ly1).attr("y2", ly + ly1)
      .attr("stroke", c).attr("stroke-width", sw);
    lg.append("text").attr("x", lx + 34).attr("y", ly + tb).attr("text-anchor", "start")
      .attr("font-family", SERIF).attr("font-size", 17).attr("fill", "#000").text(seriesNames[i]);
  });
});

// captions
const cap = d3.select(page).append("svg").attr("width", 1396).attr("height", 541)
  .style("position", "absolute").style("left", "0px").style("top", "0px").style("pointer-events", "none");
captionTags.forEach((tag, i) => {
  const [cx, cy] = captionPos[i];
  const t = cap.append("text").attr("x", cx).attr("y", cy).attr("text-anchor", "middle")
    .attr("font-family", SERIF).attr("font-size", 21).attr("fill", "#000").attr("xml:space", "preserve");
  t.append("tspan").text(tag + " " + captionOrdinals[i][0]);
  t.append("tspan").attr("font-style", "italic").attr("font-size", 14.5).attr("dy", -9).attr("dx", 1.5).text(captionOrdinals[i][1]);
  t.append("tspan").attr("dy", 9).text("  subject from ");
  const src = captionSources[i];
  if (src.startsWith("[")) {
    t.append("tspan").text("[");
    t.append("tspan").attr("fill", "#00e000").text(src.slice(1, -1));
    t.append("tspan").text("]");
  } else {
    t.append("tspan").text(src);
  }
});
</script>
</body></html>
